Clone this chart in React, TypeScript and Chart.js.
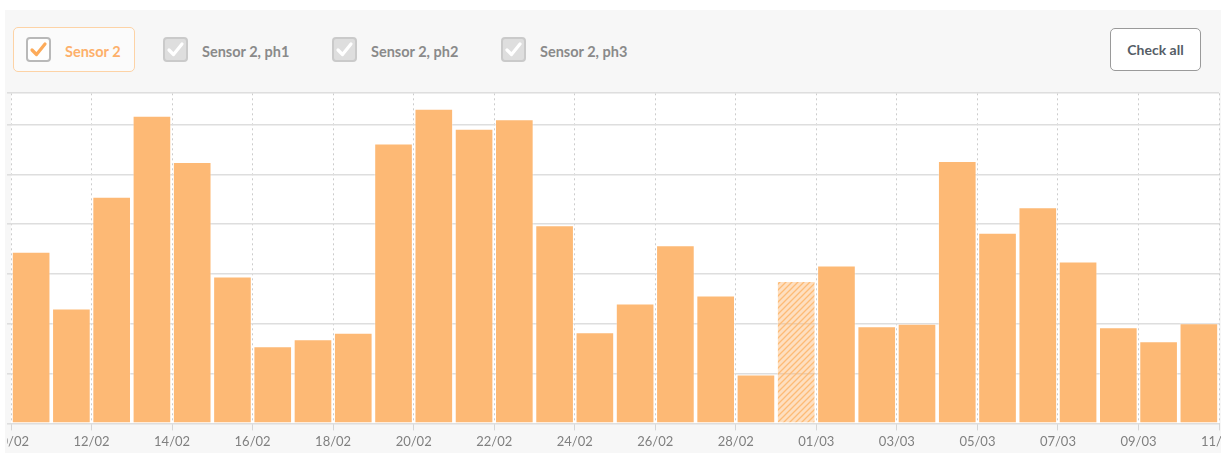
import React, { useEffect, useRef } from "react";
import { Chart, registerables } from "chart.js";

Chart.register(...registerables);

const days = [
  "10/02", "11/02", "12/02", "13/02", "14/02", "15/02", "16/02", "17/02", "18/02", "19/02",
  "20/02", "21/02", "22/02", "23/02", "24/02", "25/02", "26/02", "27/02", "28/02", "29/02",
  "01/03", "02/03", "03/03", "04/03", "05/03", "06/03", "07/03", "08/03", "09/03", "10/03",
];
const sensor2 = [
  34.5, 23.1, 45.5, 61.8, 52.5, 29.5, 15.5, 16.9, 18.2, 56.2,
  63.2, 59.2, 61.1, 39.8, 18.3, 24.1, 35.8, 25.7, 9.8, 28.6,
  31.7, 19.5, 20.0, 52.7, 38.3, 43.4, 32.5, 19.3, 16.5, 20.1,
];
const estimatedDays = ["29/02"];
const tickLabels = [
  "10/02", "12/02", "14/02", "16/02", "18/02", "20/02", "22/02", "24/02",
  "26/02", "28/02", "01/03", "03/03", "05/03", "07/03", "09/03", "11/03",
];
const yGridValues = [0, 10, 20, 30, 40, 50, 60];
const yMax = 66.3;
const legendItems = ["Sensor 2", "Sensor 2, ph1", "Sensor 2, ph2", "Sensor 2, ph3"];

const ORANGE = "#fdb975";

function Check({ color }: { color: string }) {
  return (
    <svg width="25" height="25" viewBox="0 0 25 25" style={{ position: "absolute", left: 0, top: 0 }}>
      <polyline points="6,13 10.5,17.5 19,7" fill="none" stroke={color} strokeWidth="3.2" strokeLinecap="round" strokeLinejoin="round" />
    </svg>
  );
}

export default function App() {
  const canvasRef = useRef<HTMLCanvasElement>(null);

  useEffect(() => {
    const pc = document.createElement("canvas");
    pc.width = 6;
    pc.height = 6;
    const p = pc.getContext("2d")!;
    p.fillStyle = "rgba(253,185,115,0.45)";
    p.fillRect(0, 0, 6, 6);
    p.strokeStyle = "rgba(253,185,115,0.95)";
    p.lineWidth = 1.3;
    p.beginPath();
    p.moveTo(0, 6); p.lineTo(6, 0);
    p.moveTo(-3, 3); p.lineTo(3, -3);
    p.moveTo(3, 9); p.lineTo(9, 3);
    p.stroke();
    const pattern = canvasRef.current!.getContext("2d")!.createPattern(pc, "repeat")!;

    const bgPlugin = {
      id: "plotBg",
      beforeDraw(chart: any) {
        const { ctx, chartArea } = chart;
        ctx.save();
        ctx.fillStyle = "#ffffff";
        ctx.fillRect(chartArea.left, chartArea.top, chartArea.right - chartArea.left, chartArea.bottom - chartArea.top);
        ctx.restore();
      },
    };

    Chart.defaults.font.family = "Lato, 'Open Sans', sans-serif";

    const chart = new Chart(canvasRef.current!, {
      type: "bar",
      data: {
        datasets: [
          {
            label: "Sensor 2",
            data: sensor2.map((v, i) => ({ x: i + 0.5, y: v })),
            backgroundColor: (c: any) =>
              estimatedDays.includes(days[c.dataIndex]) ? pattern : ORANGE,
            borderColor: "rgba(255,255,255,0.35)",
            borderWidth: 1,
            barPercentage: 0.96,
            categoryPercentage: 1,
          },
        ],
      },
      options: {
        animation: false,
        responsive: true,
        maintainAspectRatio: false,
        layout: {
          autoPadding: false,
          padding: { left: 0, right: 28, top: 2.3, bottom: 0 },
        },
        plugins: {
          legend: { display: false },
          tooltip: { enabled: false },
        },
        scales: {
          x: {
            type: "linear",
            min: 0,
            max: 30,
            offset: false,
            ticks: {
              stepSize: 2,
              autoSkip: false,
              maxRotation: 0,
              padding: 4,
              color: "#808080",
              font: { size: 13 },
              callback: (v: any) => tickLabels[Math.round(v / 2)],
            },
            grid: {
              offset: false,
              color: "#cccccc",
              lineWidth: 1,
              tickBorderDash: [],
              tickLength: 7,
              tickColor: "#d6d6d6",
            },
            border: { display: false, dash: [2, 3] },
          },
          y: {
            min: 0,
            max: yMax,
            afterFit: (scale: any) => {
              scale.width = 30;
            },
            afterBuildTicks: (scale: any) => {
              scale.ticks = [...yGridValues, yMax].map((v) => ({ value: v }));
            },
            ticks: { display: false },
            grid: {
              color: "#dedede",
              lineWidth: 1.6,
              tickLength: 4,
              tickColor: "#dedede",
            },
            border: { display: false },
          },
        },
      },
      plugins: [bgPlugin],
    } as any);

    return () => chart.destroy();
  }, []);

  const textFont = "Lato, 'Open Sans', sans-serif";
  const itemLefts = [26, 163, 332, 501];

  return (
    <div style={{ position: "fixed", inset: 0, background: "#ffffff", overflow: "hidden", fontFamily: textFont }}>
      <div style={{ position: "absolute", left: 5, top: 10, right: 0, bottom: 0, background: "#f7f7f7" }} />
      <div
        style={{
          position: "absolute", left: 13, top: 27, width: 120, height: 43,
          border: "1.5px solid #fdd3a6", borderRadius: 5, background: "#fbfbfb",
        }}
      />
      {legendItems.map((name, i) => {
        const active = i === 0;
        return (
          <React.Fragment key={name}>
            <div
              style={{
                position: "absolute", left: itemLefts[i], top: 37, width: 21, height: 21,
                border: active ? "2px solid #b9b9b9" : "2px solid #cacaca",
                borderRadius: 4, background: active ? "#ffffff" : "#dedede",
              }}
            >
              <div style={{ position: "absolute", left: -2, top: -2, width: 25, height: 25 }}>
                <Check color={active ? "#fdab5a" : "#ffffff"} />
              </div>
            </div>
            <div
              style={{
                position: "absolute", left: itemLefts[i] + 39, top: 42, height: 20, lineHeight: "20px",
                fontSize: 14.5, fontWeight: 700, color: active ? "#fdb06b" : "#8a8a8a", whiteSpace: "nowrap",
              }}
            >
              {name}
            </div>
          </React.Fragment>
        );
      })}
      <div
        style={{
          position: "absolute", left: 1110, top: 28, width: 89, height: 41,
          border: "1.5px solid #9a9a9a", borderRadius: 5, background: "#ffffff",
          fontSize: 14, fontWeight: 700, color: "#555d66", lineHeight: "41px", textAlign: "center",
        }}
      >
        Check all
      </div>
      <div style={{ position: "absolute", left: 7, top: 91, right: 0, height: 363, overflow: "hidden" }}>
        <div style={{ position: "absolute", left: -26.5, top: 0, width: 1266, height: 363 }}>
          <canvas ref={canvasRef} />
        </div>
      </div>
    </div>
  );
}
